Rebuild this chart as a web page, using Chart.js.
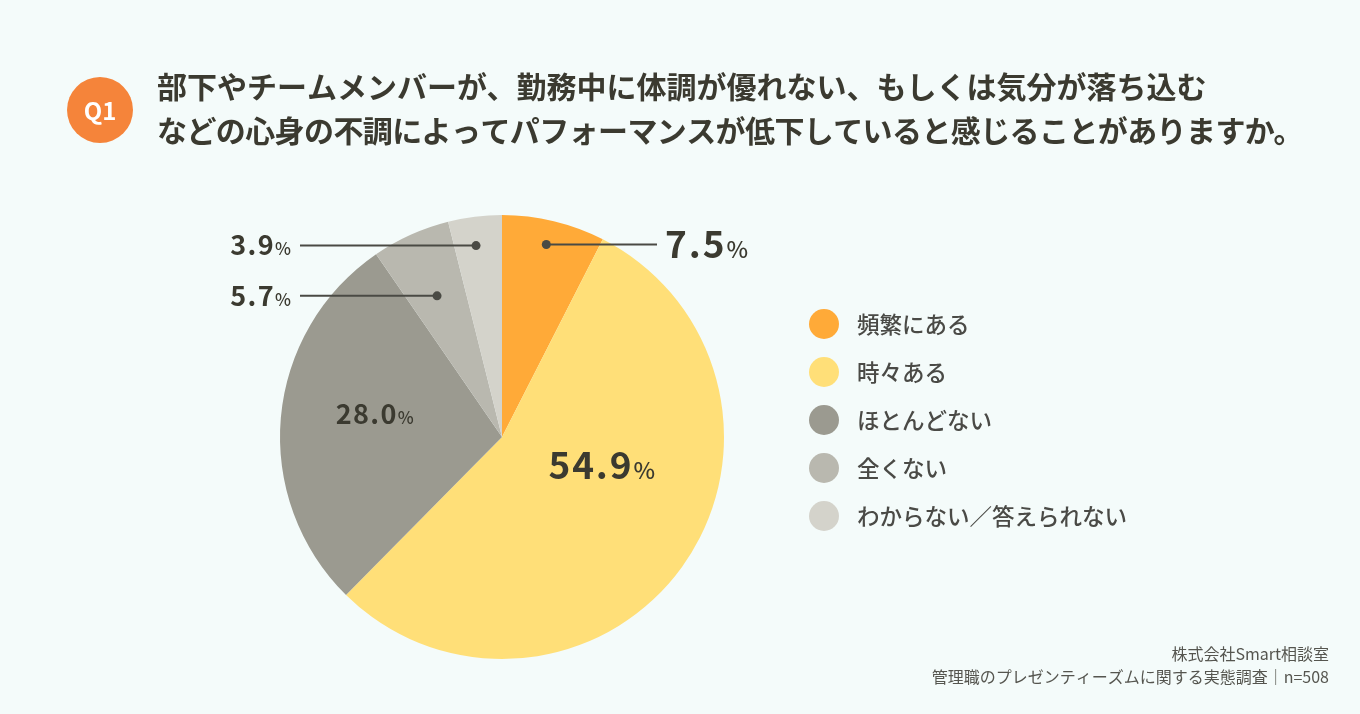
<!DOCTYPE html>
<html lang="ja">
<head>
<meta charset="utf-8">
<script src="https://cdn.jsdelivr.net/npm/chart.js@4"></script>
<style>
  html, body { margin: 0; padding: 0; background: #f4fbfa; }
  #wrap { width: 1360px; height: 714px; position: relative; }
</style>
</head>
<body>
<div id="wrap"><canvas id="pie"></canvas></div>
<script>
const categories = ["頻繁にある", "時々ある", "ほとんどない", "全くない", "わからない／答えられない"];
const percents = [7.5, 54.9, 28.0, 5.7, 3.9];
const sliceColors = ["#ffaa38", "#ffdf78", "#9b9a90", "#b9b8af", "#d4d3cb"];

const titleLines = [
  "部下やチームメンバーが、勤務中に体調が優れない、もしくは気分が落ち込む",
  "などの心身の不調によってパフォーマンスが低下していると感じることがありますか。"
];
const footerLines = ["株式会社Smart相談室", "管理職のプレゼンティーズムに関する実態調査｜n=508"];

// where each value label sits: t = fraction across the slice, rf = fraction of radius
const labelLayout = [
  { mode: "right", t: 0.48, rf: 0.89, size: 37, lineTo: 657 },
  { mode: "inside", t: 0.40, rf: 0.47, size: 37 },
  { mode: "inside", t: 0.55, rf: 0.58, size: 27 },
  { mode: "left", t: 0.48, rf: 0.70, size: 27, lineTo: 300 },
  { mode: "left", t: 0.45, rf: 0.87, size: 27, lineTo: 300 }
];

const FONT = '"Noto Sans CJK JP", "Noto Sans", sans-serif';
const INK = "#3b3a30";

function drawPct(ctx, value, size, x, y, align) {
  const num = value.toFixed(1);
  const pctSize = Math.round(size * 0.62);
  ctx.letterSpacing = (size * 0.05).toFixed(1) + "px";
  ctx.font = `bold ${size}px ${FONT}`;
  const w1 = ctx.measureText(num).width;
  ctx.letterSpacing = "0px";
  ctx.font = `500 ${pctSize}px ${FONT}`;
  const w2 = ctx.measureText("%").width + 1;
  const total = w1 + w2;
  let left = x;
  if (align === "center") left = x - total / 2;
  if (align === "right") left = x - total;
  ctx.textAlign = "left";
  ctx.textBaseline = "alphabetic";
  ctx.fillStyle = INK;
  const base = y + size * 0.36;
  ctx.letterSpacing = (size * 0.05).toFixed(1) + "px";
  ctx.font = `bold ${size}px ${FONT}`;
  ctx.fillText(num, left, base);
  ctx.letterSpacing = "0px";
  ctx.font = `500 ${pctSize}px ${FONT}`;
  ctx.fillText("%", left + w1, base);
}

const decorPlugin = {
  id: "decor",
  afterDraw(chart) {
    const ctx = chart.ctx;
    ctx.save();

    // Q1 badge
    ctx.fillStyle = "#f5843a";
    ctx.beginPath();
    ctx.arc(100, 110, 33, 0, Math.PI * 2);
    ctx.fill();
    ctx.fillStyle = "#ffffff";
    ctx.font = `bold 24px ${FONT}`;
    ctx.textAlign = "center";
    ctx.textBaseline = "middle";
    ctx.fillText("Q1", 100, 111);

    // title
    ctx.fillStyle = INK;
    ctx.textAlign = "left";
    ctx.font = `bold 30px ${FONT}`;
    ctx.fillText(titleLines[0], 157, 87);
    ctx.letterSpacing = "-0.6px";
    ctx.fillText(titleLines[1], 157, 131);
    ctx.letterSpacing = "0px";

    // value labels
    const meta = chart.getDatasetMeta(0);
    meta.data.forEach((arc, i) => {
      const lay = labelLayout[i];
      const p = arc.getProps(["x", "y", "startAngle", "endAngle", "outerRadius"], true);
      const ang = p.startAngle + (p.endAngle - p.startAngle) * lay.t;
      const px = p.x + Math.cos(ang) * p.outerRadius * lay.rf;
      const py = p.y + Math.sin(ang) * p.outerRadius * lay.rf;
      if (lay.mode === "inside") {
        drawPct(ctx, percents[i], lay.size, px, py, "center");
        return;
      }
      ctx.strokeStyle = "#4a4a44";
      ctx.lineWidth = 2;
      ctx.beginPath();
      ctx.moveTo(px, py);
      ctx.lineTo(lay.lineTo, py);
      ctx.stroke();
      ctx.fillStyle = "#4a4a44";
      ctx.beginPath();
      ctx.arc(px, py, 4.5, 0, Math.PI * 2);
      ctx.fill();
      if (lay.mode === "right") drawPct(ctx, percents[i], lay.size, lay.lineTo + 8, py, "left");
      else drawPct(ctx, percents[i], lay.size, lay.lineTo - 8, py, "right");
    });

    // legend
    categories.forEach((name, i) => {
      const cy = 324 + i * 48;
      ctx.fillStyle = sliceColors[i];
      ctx.beginPath();
      ctx.arc(824, cy, 15, 0, Math.PI * 2);
      ctx.fill();
      ctx.fillStyle = "#4a4a46";
      ctx.font = `500 22.5px ${FONT}`;
      ctx.textAlign = "left";
      ctx.textBaseline = "middle";
      ctx.fillText(name, 857, cy);
    });

    // footer
    ctx.fillStyle = "#55554f";
    ctx.font = `16px ${FONT}`;
    ctx.textAlign = "right";
    footerLines.forEach((line, i) => ctx.fillText(line, 1329, 654 + i * 23));

    ctx.restore();
  }
};

new Chart(document.getElementById("pie"), {
  type: "pie",
  data: {
    labels: categories,
    datasets: [{
      data: percents,
      backgroundColor: sliceColors,
      borderWidth: 0,
      hoverOffset: 0
    }]
  },
  options: {
    responsive: true,
    maintainAspectRatio: false,
    animation: false,
    events: [],
    layout: { padding: { left: 280, right: 636, top: 215, bottom: 55 } },
    plugins: {
      legend: { display: false },
      tooltip: { enabled: false }
    }
  },
  plugins: [decorPlugin]
});
</script>
</body>
</html>
